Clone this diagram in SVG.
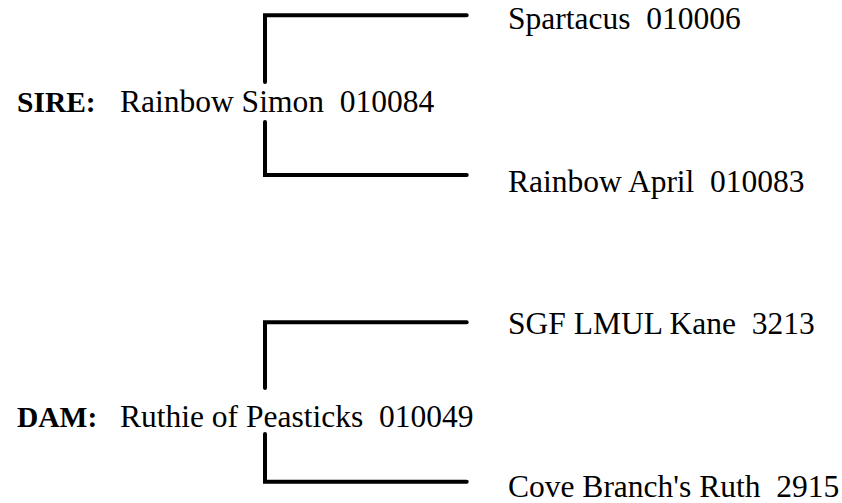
<svg xmlns="http://www.w3.org/2000/svg" width="842" height="503" viewBox="0 0 842 503">
<style>
text{font-family:'Liberation Serif','Times New Roman',serif;font-size:31.5px;fill:#000;white-space:pre}
.b{font-weight:bold;font-size:29.5px}
.c{fill:none;stroke:#000;stroke-width:4;stroke-linecap:round;stroke-linejoin:miter}
</style>
<rect width="842" height="503" fill="#fff"/>
<g id="connectors">
<path class="c" d="M466.7 15.3H265V82"/>
<path class="c" d="M265 122V175H466.7"/>
<path class="c" d="M466.7 322.3H265V388"/>
<path class="c" d="M265 434V481.7H466.7"/>
</g>
<g id="sire"><text class="b" x="17" y="111.7">SIRE:</text><text x="120" y="111.7">Rainbow Simon  010084</text></g>
<g id="sire-sire"><text x="508" y="29.3">Spartacus  010006</text></g>
<g id="sire-dam"><text x="508" y="191.7">Rainbow April  010083</text></g>
<g id="dam"><text class="b" x="17" y="426.7">DAM:</text><text x="120" y="426.7">Ruthie of Peasticks  010049</text></g>
<g id="dam-sire"><text x="508" y="334">SGF LMUL Kane  3213</text></g>
<g id="dam-dam"><text x="508" y="496.7">Cove Branch's Ruth  2915</text></g>
</svg>
